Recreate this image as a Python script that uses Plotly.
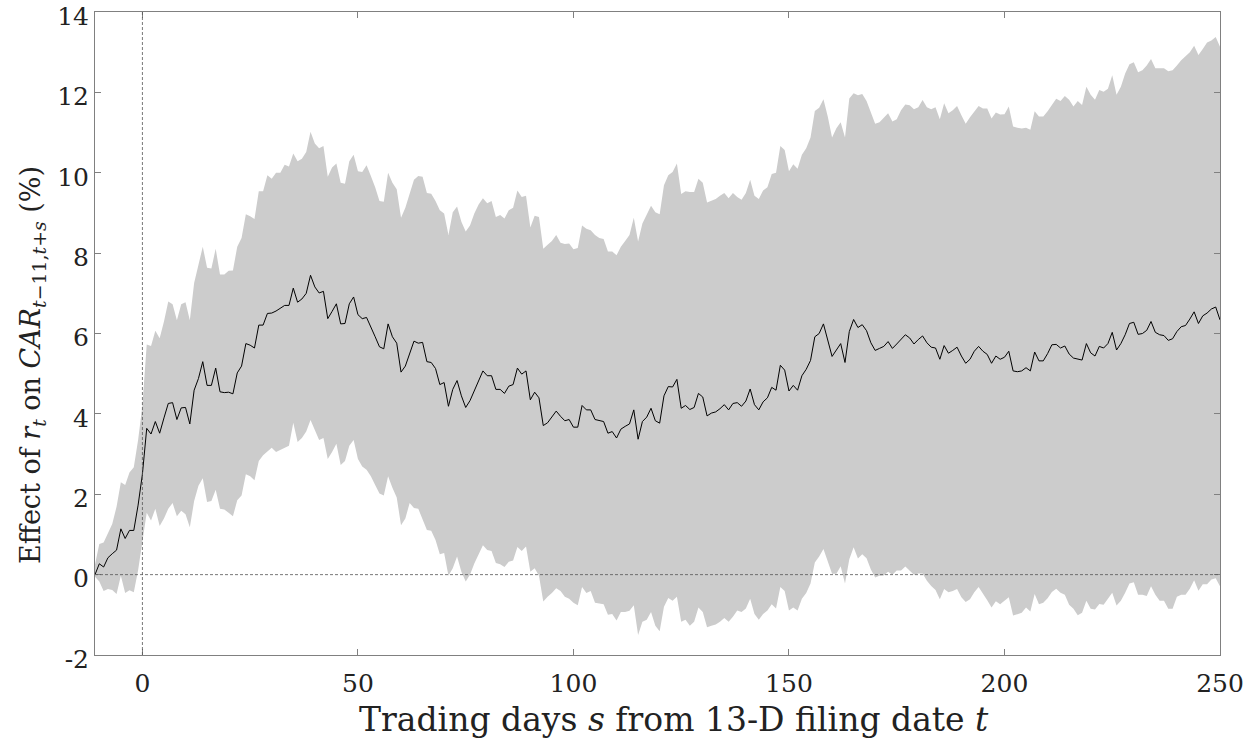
import plotly.graph_objects as go

days = list(range(-11, 251))

mean_effect = [
    0.0, 0.27, 0.19, 0.42, 0.52, 0.61, 1.14, 0.9, 1.1, 1.1,
    1.73, 2.5, 3.64, 3.5, 3.81, 3.52, 3.9, 4.26, 4.28, 3.86,
    4.15, 4.16, 3.75, 4.59, 4.88, 5.3, 4.71, 4.71, 5.14, 4.55,
    4.53, 4.54, 4.5, 5.02, 5.19, 5.75, 5.71, 5.64, 6.21, 6.21,
    6.5, 6.51, 6.56, 6.62, 6.7, 6.7, 7.13, 6.78, 6.86, 7.0,
    7.45, 7.16, 7.01, 7.05, 6.37, 6.55, 6.74, 6.24, 6.25, 6.74,
    6.91, 6.47, 6.37, 6.4, 6.18, 5.92, 5.67, 5.62, 6.24, 5.92,
    5.76, 5.04, 5.19, 5.51, 5.81, 5.76, 5.78, 5.3, 5.28, 5.13,
    4.73, 4.78, 4.19, 4.61, 4.83, 4.45, 4.16, 4.33, 4.59, 4.83,
    5.07, 4.95, 4.95, 4.61, 4.61, 4.51, 4.69, 4.73, 5.14, 4.99,
    5.07, 4.35, 4.54, 4.4, 3.71, 3.78, 3.92, 4.07, 3.94, 3.83,
    3.86, 3.67, 3.67, 4.21, 4.1, 4.1, 3.86, 3.83, 3.81, 3.52,
    3.56, 3.4, 3.62, 3.69, 3.75, 4.1, 3.37, 3.81, 3.92, 4.14,
    3.83, 3.77, 4.45, 4.68, 4.67, 4.86, 4.14, 4.21, 4.11, 4.16,
    4.51, 4.42, 3.95, 4.02, 4.05, 4.13, 4.23, 4.1, 4.26, 4.28,
    4.19, 4.32, 4.62, 4.23, 4.1, 4.3, 4.4, 4.66, 4.59, 5.21,
    5.09, 4.57, 4.71, 4.59, 4.95, 5.11, 5.33, 5.92, 6.0, 6.24,
    5.85, 5.43, 5.59, 5.75, 5.28, 6.05, 6.35, 6.15, 6.22, 6.07,
    5.77, 5.58, 5.63, 5.68, 5.8, 5.63, 5.74, 5.85, 5.97, 5.89,
    5.74, 5.85, 5.94, 5.77, 5.66, 5.64, 5.36, 5.7, 5.51, 5.58,
    5.66, 5.44, 5.26, 5.36, 5.56, 5.68, 5.56, 5.48, 5.26, 5.44,
    5.36, 5.41, 5.56, 5.07, 5.05, 5.07, 5.15, 5.07, 5.54, 5.32,
    5.32, 5.5, 5.72, 5.73, 5.64, 5.69, 5.49, 5.39, 5.37, 5.34,
    5.75, 5.52, 5.44, 5.68, 5.64, 5.75, 6.03, 5.59, 5.75, 5.97,
    6.25, 6.28, 5.98, 6.0, 6.08, 6.3, 6.03, 5.97, 5.95, 5.83,
    5.87, 6.05, 6.17, 6.2, 6.36, 6.54, 6.25, 6.44, 6.51, 6.61,
    6.66, 6.34,
]

upper_ci = [
    0.25, 0.76, 0.8, 1.05, 1.26, 1.69, 2.3, 2.23, 2.54, 2.67,
    3.35, 4.2, 5.73, 5.69, 6.07, 5.88, 6.3, 6.8, 6.73, 6.33,
    6.73, 6.78, 6.33, 7.26, 7.73, 8.16, 7.64, 7.62, 8.11, 7.47,
    7.47, 7.56, 7.57, 8.16, 8.38, 8.97, 8.92, 8.85, 9.54, 9.54,
    9.94, 9.85, 10.0, 10.0, 10.2, 10.16, 10.48, 10.29, 10.35, 10.52,
    11.02, 10.73, 10.61, 10.67, 9.9, 10.13, 10.23, 9.75, 9.73, 10.29,
    10.45, 10.04, 10.02, 10.19, 9.92, 9.64, 9.3, 9.28, 10.0, 9.75,
    9.59, 8.88, 9.13, 9.5, 9.83, 9.92, 9.9, 9.5, 9.48, 9.3,
    9.07, 8.99, 8.45, 9.02, 9.16, 8.78, 8.54, 8.69, 8.99, 9.21,
    9.37, 9.24, 9.3, 8.9, 8.95, 8.86, 9.07, 9.13, 9.56, 9.4,
    9.43, 8.64, 8.93, 8.9, 8.11, 8.21, 8.3, 8.45, 8.26, 8.23,
    8.24, 8.1, 8.13, 8.69, 8.61, 8.57, 8.45, 8.38, 8.35, 8.04,
    8.04, 7.95, 8.16, 8.3, 8.45, 8.88, 8.29, 8.74, 8.97, 9.18,
    9.02, 8.97, 9.69, 9.94, 10.02, 10.23, 9.47, 9.54, 9.52, 9.52,
    9.85, 9.75, 9.26, 9.3, 9.35, 9.43, 9.5, 9.37, 9.5, 9.4,
    9.33, 9.5, 9.83, 9.43, 9.35, 9.56, 9.64, 9.97, 10.0, 10.67,
    10.57, 10.04, 10.21, 10.1, 10.45, 10.61, 10.88, 11.54, 11.62, 11.83,
    11.4, 10.88, 11.11, 11.26, 10.88, 11.85, 11.98, 11.93, 11.96, 11.79,
    11.5, 11.22, 11.26, 11.36, 11.48, 11.28, 11.33, 11.56, 11.7, 11.68,
    11.58, 11.63, 11.81, 11.63, 11.58, 11.63, 11.33, 11.73, 11.48, 11.56,
    11.66, 11.43, 11.22, 11.38, 11.53, 11.66, 11.6, 11.6, 11.35, 11.5,
    11.45, 11.46, 11.65, 11.15, 11.12, 11.1, 11.12, 11.07, 11.53, 11.4,
    11.4, 11.53, 11.69, 11.84, 11.79, 11.91, 11.82, 11.65, 11.79, 11.69,
    12.14, 11.94, 11.82, 12.06, 12.02, 12.09, 12.43, 11.94, 12.14, 12.47,
    12.7, 12.75, 12.5, 12.55, 12.67, 12.83, 12.6, 12.6, 12.6, 12.53,
    12.55, 12.67, 12.8, 12.9, 13.0, 13.16, 12.93, 13.08, 13.24, 13.29,
    13.38, 13.14,
]

lower_ci = [
    -0.05, -0.17, -0.41, -0.36, -0.38, -0.48, -0.03, -0.46, -0.39, -0.44,
    0.11, 0.88, 1.54, 1.35, 1.64, 1.21, 1.4, 1.64, 1.78, 1.45,
    1.59, 1.5, 1.18, 1.83, 2.21, 2.4, 1.81, 1.83, 2.11, 1.64,
    1.62, 1.54, 1.45, 1.85, 1.97, 2.5, 2.45, 2.35, 2.83, 2.97,
    3.07, 3.16, 3.05, 3.1, 3.16, 3.21, 3.78, 3.3, 3.4, 3.56,
    3.85, 3.59, 3.35, 3.4, 2.88, 3.05, 3.26, 2.73, 2.83, 3.21,
    3.35, 2.88, 2.69, 2.61, 2.45, 2.23, 2.02, 1.97, 2.45, 2.16,
    1.92, 1.23, 1.4, 1.78, 1.66, 1.64, 1.35, 1.11, 1.09, 0.86,
    0.51, 0.54, -0.03, 0.16, 0.45, 0.07, -0.17, 0.0, 0.28, 0.52,
    0.73, 0.61, 0.59, 0.29, 0.26, 0.19, 0.32, 0.35, 0.69, 0.59,
    0.7, 0.07, 0.16, -0.03, -0.67, -0.55, -0.46, -0.34, -0.41, -0.55,
    -0.6, -0.7, -0.76, -0.31, -0.46, -0.41, -0.7, -0.72, -0.74, -1.0,
    -0.98, -1.14, -0.93, -0.93, -0.9, -0.76, -1.5, -1.17, -1.12, -0.93,
    -1.27, -1.41, -0.8, -0.58, -0.65, -0.55, -1.17, -1.12, -1.27, -1.17,
    -0.82, -0.93, -1.31, -1.27, -1.24, -1.17, -1.08, -1.17, -1.05, -0.89,
    -0.93, -0.84, -0.6, -0.98, -1.12, -0.98, -0.89, -0.74, -0.84, -0.31,
    -0.41, -0.89, -0.82, -0.89, -0.6, -0.46, -0.22, 0.3, 0.45, 0.64,
    0.35, 0.02, 0.02, 0.21, -0.22, 0.38, 0.68, 0.4, 0.51, 0.41,
    0.13, -0.07, -0.03, -0.02, 0.07, 0.0, 0.1, 0.1, 0.2, 0.1,
    0.0, 0.03, 0.03, -0.15, -0.28, -0.38, -0.61, -0.36, -0.44, -0.41,
    -0.36, -0.56, -0.68, -0.61, -0.44, -0.31, -0.46, -0.64, -0.82, -0.66,
    -0.74, -0.66, -0.56, -1.02, -0.99, -0.95, -0.82, -0.92, -0.48, -0.74,
    -0.7, -0.59, -0.43, -0.35, -0.45, -0.5, -0.75, -0.85, -1.01, -0.95,
    -0.65, -0.85, -0.87, -0.73, -0.75, -0.6, -0.45, -0.77, -0.65, -0.45,
    -0.22, -0.19, -0.5, -0.5, -0.53, -0.29, -0.5, -0.65, -0.65, -0.85,
    -0.85, -0.55, -0.5, -0.5, -0.35, -0.14, -0.4, -0.24, -0.24, -0.12,
    -0.09, -0.29,
]

x_tick_vals = [0, 50, 100, 150, 200, 250]
x_tick_text = ["0", "50", "100", "150", "200", "250"]
y_tick_vals = [-2, 0, 2, 4, 6, 8, 10, 12, 14]
y_tick_text = ["-2", "0", "2", "4", "6", "8", "10", "12", "14"]

x_title = "Trading days <i>s</i> from 13-D filing date <i>t</i>"
y_title = ("Effect of <i>r</i><sub><i>t</i></sub> on <i>CAR</i>"
           "<sub><i>t</i>−11,<i>t</i>+<i>s</i></sub> (%)")

ref_day = 0
ref_effect = 0

FONT = "DejaVu Serif"
AXIS_COLOR = "#808080"
TEXT_COLOR = "#222222"

fig = go.Figure()
fig.add_trace(go.Scatter(x=days, y=lower_ci, mode="lines", line=dict(width=0),
                         hoverinfo="skip", showlegend=False))
fig.add_trace(go.Scatter(x=days, y=upper_ci, mode="lines", line=dict(width=0),
                         fill="tonexty", fillcolor="#cccccc",
                         hoverinfo="skip", showlegend=False))
fig.add_trace(go.Scatter(x=days, y=mean_effect, mode="lines",
                         line=dict(color="black", width=1), showlegend=False))

fig.add_shape(type="line", xref="x", yref="paper", x0=ref_day, x1=ref_day, y0=0, y1=1,
              line=dict(color="#555555", width=0.8, dash="3px,2px"), layer="above")
fig.add_shape(type="line", xref="paper", yref="y", x0=0, x1=1, y0=ref_effect, y1=ref_effect,
              line=dict(color="#555555", width=0.8, dash="3px,2px"), layer="above")

fig.add_annotation(text=y_title, textangle=-90, showarrow=False,
                   xref="paper", yref="paper", x=0, y=0.451, xshift=-63,
                   xanchor="center", yanchor="middle",
                   font=dict(family=FONT, size=27, color=TEXT_COLOR))
fig.add_annotation(text=x_title, showarrow=False,
                   xref="paper", yref="paper", x=0.515, y=0, yshift=-64,
                   xanchor="center", yanchor="middle",
                   font=dict(family=FONT, size=33, color=TEXT_COLOR))

fig.update_layout(
    width=1257, height=739,
    margin=dict(l=95, r=37, t=12, b=84, autoexpand=False),
    paper_bgcolor="white", plot_bgcolor="white",
    font=dict(family=FONT, size=25, color=TEXT_COLOR),
    showlegend=False,
)
fig.update_xaxes(
    range=[-11, 250], tickmode="array", tickvals=x_tick_vals, ticktext=x_tick_text,
    ticks="inside", ticklen=6, tickcolor=AXIS_COLOR, tickwidth=1,
    showline=True, linecolor=AXIS_COLOR, linewidth=1, mirror="ticks",
    showgrid=False, zeroline=False, automargin=False, ticklabeloverflow="allow",
    ticklabelstandoff=6,
    tickfont=dict(family=FONT, size=25, color=TEXT_COLOR),
)
fig.update_yaxes(
    range=[-2, 14.002], tickmode="array", tickvals=y_tick_vals, ticktext=y_tick_text,
    ticks="inside", ticklen=6, tickcolor=AXIS_COLOR, tickwidth=1,
    showline=True, linecolor=AXIS_COLOR, linewidth=1, mirror="ticks",
    showgrid=False, zeroline=False, automargin=False, ticklabeloverflow="allow",
    ticklabelshift=4,
    tickfont=dict(family=FONT, size=25, color=TEXT_COLOR),
)

fig.write_html("out.html", config={"displayModeBar": False},
               post_script="document.body.style.margin='0px';")
